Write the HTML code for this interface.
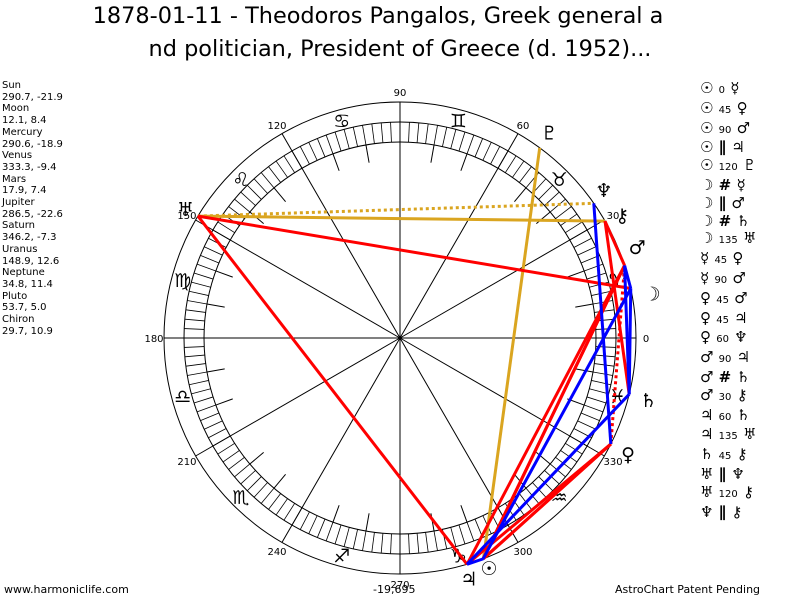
<!DOCTYPE html>
<html><head><meta charset="utf-8"><style>
html,body{margin:0;padding:0;background:#fff;}
body{width:800px;height:600px;overflow:hidden;position:relative;font-family:"DejaVu Sans",sans-serif;}
.t{position:absolute;left:0;width:800px;text-align:center;font-size:22.4px;color:#000;white-space:nowrap;}
.l{position:absolute;left:2px;top:80px;font-size:10px;line-height:11.7px;}
.r{position:absolute;left:700px;top:80px;font-family:"DejaVu Sans",sans-serif;font-size:15px;line-height:17.8px;white-space:pre;font-weight:bold;}
.r small{font-size:10px;font-weight:normal;}
.b{position:absolute;top:583px;font-size:11px;}
</style></head><body>
<div class="t" style="top:3px;left:-22px">1878-01-11 - Theodoros Pangalos, Greek general a</div>
<div class="t" style="top:36px">nd politician, President of Greece (d. 1952)...</div>
<div class="l">Sun<br>290.7, -21.9<br>Moon<br>12.1, 8.4<br>Mercury<br>290.6, -18.9<br>Venus<br>333.3, -9.4<br>Mars<br>17.9, 7.4<br>Jupiter<br>286.5, -22.6<br>Saturn<br>346.2, -7.3<br>Uranus<br>148.9, 12.6<br>Neptune<br>34.8, 11.4<br>Pluto<br>53.7, 5.0<br>Chiron<br>29.7, 10.9</div>
<div class="r">☉ <small>0</small> ☿
☉ <small>45</small> ♀
☉ <small>90</small> ♂
☉ ∥ ♃
☉ <small>120</small> ♇
☽ # ☿
☽ ∥ ♂
☽ # ♄
☽ <small>135</small> ♅
☿ <small>45</small> ♀
☿ <small>90</small> ♂
♀ <small>45</small> ♂
♀ <small>45</small> ♃
♀ <small>60</small> ♆
♂ <small>90</small> ♃
♂ # ♄
♂ <small>30</small> ⚷
♃ <small>60</small> ♄
♃ <small>135</small> ♅
♄ <small>45</small> ⚷
♅ ∥ ♆
♅ <small>120</small> ⚷
♆ ∥ ⚷</div>
<div class="b" style="left:4px">www.harmoniclife.com</div>
<div class="b" style="left:373px">-19,695</div>
<div class="b" style="left:615px">AstroChart Patent Pending</div>
<svg id="s" width="800" height="600" style="position:absolute;left:0;top:0"></svg>
<script>
var cx=400,cy=338,R=236,h='';
function P(a,r){a=a*Math.PI/180;return [cx+r*Math.cos(a),cy-r*Math.sin(a)];}
h+='<circle cx="400" cy="338" r="236" fill="none" stroke="#000" stroke-width="1"/>';
h+='<circle cx="400" cy="338" r="216" fill="none" stroke="#000" stroke-width="1"/>';
h+='<circle cx="400" cy="338" r="196" fill="none" stroke="#000" stroke-width="1"/>';
for(var a=0;a<360;a+=2.5){var p=P(a,196),q=P(a,216);h+='<line x1="'+p[0]+'" y1="'+p[1]+'" x2="'+q[0]+'" y2="'+q[1]+'" stroke="#000" stroke-width="0.8"/>';}
for(var a=0;a<360;a+=10){if(a%30==0){var q=P(a,236);h+='<line x1="400" y1="338" x2="'+q[0]+'" y2="'+q[1]+'" stroke="#000" stroke-width="1"/>';var t=P(a,246);h+='<text x="'+t[0]+'" y="'+(t[1]+4)+'" font-size="10" text-anchor="middle" font-family="DejaVu Sans">'+a+'</text>';}else{var p=P(a,178),q=P(a,196);h+='<line x1="'+p[0]+'" y1="'+p[1]+'" x2="'+q[0]+'" y2="'+q[1]+'" stroke="#000" stroke-width="1"/>';}}
var sg='♈♉♊♋♌♍♎♏♐♑♒♓';
for(var i=0;i<12;i++){var t=P(i*30+15,225);h+='<text x="'+t[0]+'" y="'+(t[1]+7)+'" font-size="19" text-anchor="middle" font-family="DejaVu Sans">'+sg[i]+'\uFE0E</text>';}
var pl={Su:290.7,Mo:12.1,Me:290.6,Ve:333.3,Ma:17.9,Ju:286.5,Sa:346.2,Ur:148.9,Ne:34.8,Pl:53.7,Ch:29.7};
function L(a,b,c,d){var p=P(pl[a],R),q=P(pl[b],R);h+='<line x1="'+p[0]+'" y1="'+p[1]+'" x2="'+q[0]+'" y2="'+q[1]+'" stroke="'+c+'" stroke-width="3"'+(d?' stroke-dasharray="3,3"':'')+'/>';}
var red='#ff0000',blu='#0000ff',org='#daa520';
L('Su','Pl',org);L('Ur','Ch',org);L('Ur','Ne',org,1);
L('Su','Ve',red);L('Su','Ma',red);L('Mo','Ur',red);L('Me','Ve',red);L('Me','Ma',red);
L('Ve','Ma',red,1);L('Ve','Ju',red);L('Ma','Ju',red);L('Ju','Ur',red);L('Sa','Ch',red);L('Ma','Ch',red);
L('Mo','Me',blu);L('Mo','Sa',blu);L('Mo','Ma',blu);L('Ve','Ne',blu);L('Ma','Sa',blu);L('Ju','Sa',blu);L('Su','Ju',blu);
var g={Mo:['☽',10,256],Ve:['♀',333,256],Ma:['♂',21,254],Ju:['♃',286,250],Sa:['♄',346,256],Ur:['♅',149,250],Ne:['♆',36,252],Pl:['♇',54,254],Ch:['⚷',29,254]};
for(var k in g){var t=P(g[k][1],g[k][2]);h+='<text x="'+t[0]+'" y="'+(t[1]+7)+'" font-size="19" text-anchor="middle" font-family="DejaVu Sans">'+g[k][0]+'</text>';}
h+='<text x="489" y="575" font-size="19" text-anchor="middle" font-family="DejaVu Sans">☉</text>';
document.getElementById('s').innerHTML=h;
</script>
</body></html>
